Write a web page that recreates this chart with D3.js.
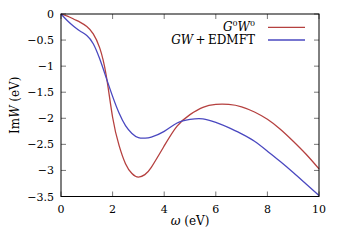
<!DOCTYPE html>
<html>
<head>
<meta charset="utf-8">
<script src="https://d3js.org/d3.v7.min.js"></script>
<style>
  body { margin: 0; background: #fff; }
</style>
</head>
<body>
<script>
// data
var omega = [0, 0.25, 0.5, 0.75, 1.0, 1.25, 1.5, 1.75, 2.0, 2.25, 2.5, 2.75, 3.0, 3.25, 3.5,
             4.0, 4.5, 5.0, 5.5, 6.0, 6.5, 7.0, 7.5, 8.0, 8.5, 9.0, 9.5, 10];
var g0w0 = [0, -0.04, -0.10, -0.16, -0.24, -0.38, -0.65, -1.17, -1.98, -2.52, -2.87, -3.06, -3.13, -3.08, -2.94,
            -2.53, -2.15, -1.93, -1.79, -1.735, -1.735, -1.78, -1.88, -2.02, -2.21, -2.44, -2.69, -2.97];
var gwEdmft = [0, -0.13, -0.24, -0.33, -0.41, -0.57, -0.86, -1.22, -1.58, -1.90, -2.14, -2.29, -2.37, -2.38, -2.36,
               -2.25, -2.09, -2.02, -2.01, -2.08, -2.18, -2.30, -2.44, -2.63, -2.83, -3.04, -3.26, -3.48];
var xTicks = [0, 2, 4, 6, 8, 10];
var yTicks = [0, -0.5, -1, -1.5, -2, -2.5, -3, -3.5];

var width = 341, height = 240;
var pLeft = 61, pRight = 319, pTop = 14, pBottom = 196.5;

var svg = d3.select("body").append("svg")
  .attr("width", width).attr("height", height)
  .style("font-family", "'DejaVu Serif', serif");

var x = d3.scaleLinear().domain([0, 10]).range([pLeft, pRight]);
var y = d3.scaleLinear().domain([-3.5, 0]).range([pBottom, pTop]);

var fmt = function(d) { return String(d).replace("-", "\u2212"); };

// ticks on all four sides, pointing inward
var tickG = svg.append("g").attr("stroke", "#555").attr("stroke-width", 0.8);
xTicks.forEach(function(t) {
  tickG.append("line").attr("x1", x(t)).attr("x2", x(t)).attr("y1", pBottom).attr("y2", pBottom - 5);
  tickG.append("line").attr("x1", x(t)).attr("x2", x(t)).attr("y1", pTop).attr("y2", pTop + 5);
});
yTicks.forEach(function(t) {
  tickG.append("line").attr("x1", pLeft).attr("x2", pLeft + 5).attr("y1", y(t)).attr("y2", y(t));
  tickG.append("line").attr("x1", pRight).attr("x2", pRight - 5).attr("y1", y(t)).attr("y2", y(t));
});

svg.append("g").selectAll("text").data(xTicks).enter().append("text")
  .attr("x", function(d) { return x(d); })
  .attr("y", pBottom + 16)
  .attr("text-anchor", "middle")
  .attr("font-size", 11)
  .text(fmt);

svg.append("g").selectAll("text").data(yTicks).enter().append("text")
  .attr("x", pLeft - 7)
  .attr("y", function(d) { return y(d) + 4; })
  .attr("text-anchor", "end")
  .attr("font-size", 11)
  .text(fmt);

// curves
var line = d3.line()
  .x(function(d) { return x(d[0]); })
  .y(function(d) { return y(d[1]); })
  .curve(d3.curveNatural);

var series = [
  { name: "G0W0", vals: g0w0, color: "#b5403f" },
  { name: "GW+EDMFT", vals: gwEdmft, color: "#4a48c0" }
];

series.forEach(function(s) {
  svg.append("path")
    .attr("d", line(omega.map(function(w, i) { return [w, s.vals[i]]; })))
    .attr("fill", "none")
    .attr("stroke", s.color)
    .attr("stroke-width", 1.3);
});

// frame
svg.append("rect")
  .attr("x", pLeft).attr("y", pTop)
  .attr("width", pRight - pLeft).attr("height", pBottom - pTop)
  .attr("fill", "none").attr("stroke", "#000").attr("stroke-width", 1);

// legend
var leg1 = svg.append("text").attr("x", 255).attr("y", 31).attr("text-anchor", "end").attr("font-size", 12);
leg1.append("tspan").attr("font-style", "italic").text("G");
leg1.append("tspan").attr("font-size", 8).attr("dy", -5).text("0");
leg1.append("tspan").attr("font-style", "italic").attr("dy", 5).text("W");
leg1.append("tspan").attr("font-size", 8).attr("dy", -5).text("0");

var leg2 = svg.append("text").attr("x", 255).attr("y", 44).attr("text-anchor", "end").attr("font-size", 12);
leg2.append("tspan").attr("font-style", "italic").text("GW");
leg2.append("tspan").text("\u2009+\u2009EDMFT");

svg.append("line").attr("x1", 268).attr("x2", 305).attr("y1", 27.3).attr("y2", 27.3)
  .attr("stroke", series[0].color).attr("stroke-width", 1.3);
svg.append("line").attr("x1", 268).attr("x2", 305).attr("y1", 40).attr("y2", 40)
  .attr("stroke", series[1].color).attr("stroke-width", 1.3);

// axis titles
var xl = svg.append("text").attr("x", (pLeft + pRight) / 2).attr("y", 225)
  .attr("text-anchor", "middle").attr("font-size", 12);
xl.append("tspan").attr("font-style", "italic").text("\u03c9");
xl.append("tspan").text(" (eV)");

var yl = svg.append("text")
  .attr("transform", "translate(19," + ((pTop + pBottom) / 2) + ") rotate(-90)")
  .attr("text-anchor", "middle").attr("font-size", 12);
yl.append("tspan").text("Im");
yl.append("tspan").attr("font-style", "italic").text("W");
yl.append("tspan").text(" (eV)");
</script>
</body>
</html>
